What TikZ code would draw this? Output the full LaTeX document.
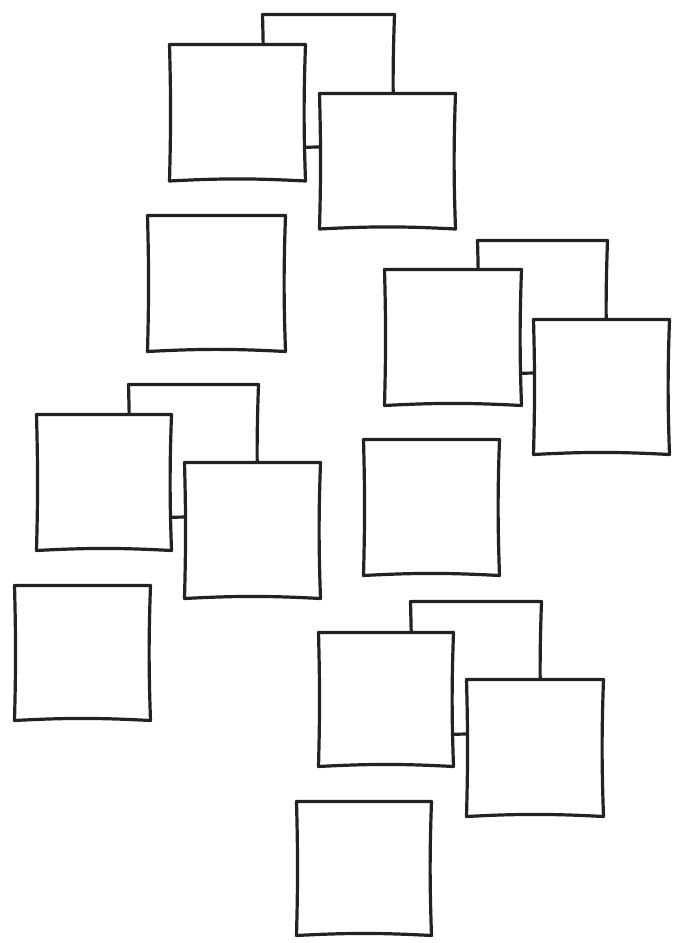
\documentclass[tikz,border=0pt]{standalone}
\usetikzlibrary{calc}
\definecolor{ink}{HTML}{222222}
\tikzset{
  card/.style={rectangle, draw=none, inner sep=0pt, outer sep=0pt},
  sketch/.style={draw=ink, fill=white, line width=3.2pt, line join=round, line cap=round}
}
\newcommand\card[5]{%
  \node[card, minimum width={#4pt-#2pt}, minimum height={#5pt-#3pt}] (#1) at ({(#2+#4)/2},{(#3+#5)/2}) {};
  \filldraw[sketch] (#1.north west) -- (#1.north east) to[bend right=2] (#1.south east)
     to[bend right=3] (#1.south west) to[bend right=1.5] (#1.north west) -- cycle;}
\begin{document}
\begin{tikzpicture}[x=1pt,y=-1pt]
\useasboundingbox (0,0) rectangle (675,943);
% group 1
\card{gAback}{262.5}{14.5}{394.5}{149}
\card{gAleft}{169.5}{44.5}{305.5}{181}
\card{gAright}{319.5}{93.5}{455.5}{229}
\card{gAlone}{147.5}{215.5}{285.5}{351.5}
% group 2
\card{gBback}{477.5}{240.5}{607.5}{375}
\card{gBleft}{384.5}{269.5}{521.5}{405.5}
\card{gBright}{533.5}{319.5}{669.5}{454.5}
\card{gBlone}{363.5}{439.5}{499.5}{575.5}
% group 3
\card{gCback}{128.5}{384.5}{258.5}{519}
\card{gCleft}{36.5}{414.5}{171.5}{550.5}
\card{gCright}{184.5}{462.5}{320.5}{598.5}
\card{gClone}{14.5}{585.5}{150.5}{720.5}
% group 4
\card{gDback}{410.5}{601.5}{541.5}{736}
\card{gDleft}{318.5}{632.5}{453.5}{766.5}
\card{gDright}{466.5}{679.5}{603.5}{816.5}
\card{gDlone}{296.5}{801.5}{431.5}{935.5}
\end{tikzpicture}
\end{document}
